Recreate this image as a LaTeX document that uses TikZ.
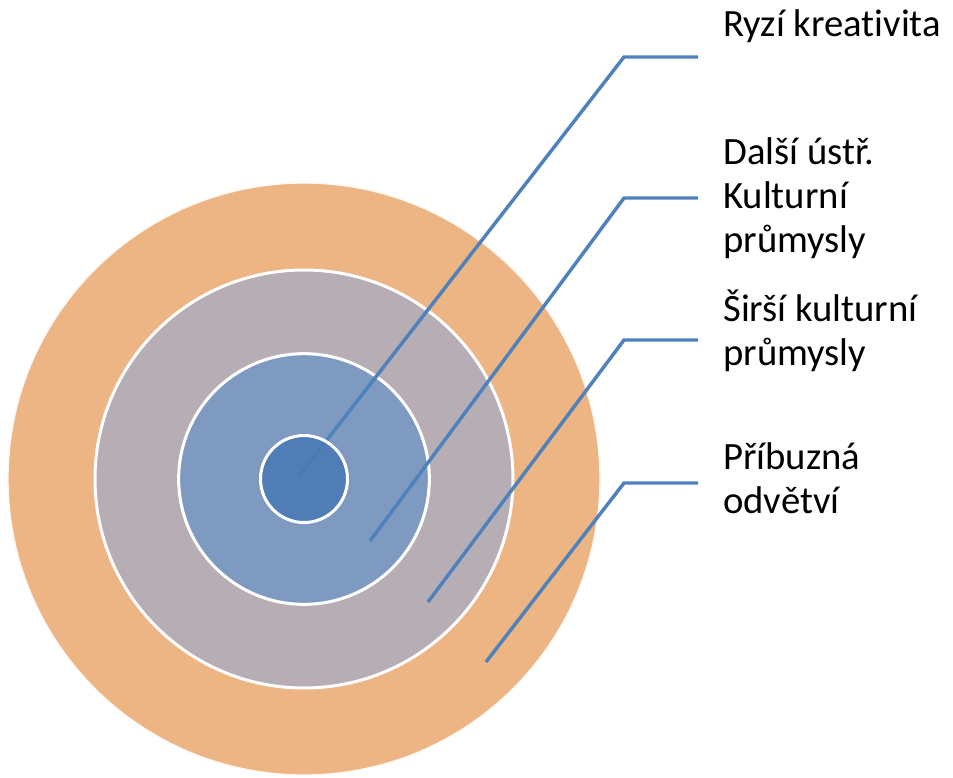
\documentclass[tikz,border=0pt]{standalone}
\usepackage{fontspec}
\setmainfont{Carlito}[Ligatures={NoCommon}]
\usetikzlibrary{positioning}

\definecolor{ringorange}{HTML}{EEB584}
\definecolor{ringgray}{HTML}{B7AEB5}
\definecolor{ringblue}{HTML}{7F9AC0}
\definecolor{coreblue}{HTML}{4A7AB4}
\definecolor{leaderblue}{HTML}{4F81BD}

\begin{document}
\begin{tikzpicture}[
    x=0.75pt, y=-0.75pt,
    ring/.style={circle, draw=white, line width=2.25pt, inner sep=0pt},
    leader/.style={draw=leaderblue, line width=2.6pt},
    lbl/.style={anchor=base west, align=left, inner sep=0pt,
        font=\fontsize{29}{33}\selectfont}
]
    \useasboundingbox (0,0) rectangle (953,778);

    % rings, from outside in
    \node[ring, fill=ringorange, draw=white!90!ringorange, line width=1pt, minimum size=444pt] (related) at (304,479) {};
    \node[ring, fill=ringgray, minimum size=313.5pt] (wider) at (related.center) {};
    \node[ring, fill=ringblue, minimum size=188pt] (core) at (related.center) {};

    % labels (placed at the baseline of their last line)
    \node[lbl] (lblpure) at (723,36.7) {Ryzí kreativita};
    \node[lbl] (lblcore) at (723,252) {Další ústř.\\Kulturní\\průmysly};
    \node[lbl] (lblwider) at (723,365) {Širší kulturní\\průmysly};
    \node[lbl] (lblrelated) at (723,513) {Příbuzná\\odvětví};

    % leader lines
    \coordinate (tippure) at (299,476);
    \coordinate (bendpure) at (624,57);
    \coordinate (endpure) at (698,57);
    \coordinate (tipcore) at (370,541);
    \coordinate (bendcore) at (624,198);
    \coordinate (endcore) at (698,198);
    \coordinate (tipwider) at (428,602);
    \coordinate (bendwider) at (624,340);
    \coordinate (endwider) at (698,340);
    \coordinate (tiprelated) at (486,662);
    \coordinate (bendrelated) at (624,483);
    \coordinate (endrelated) at (698,483);

    \draw[leader] (tippure) -- (bendpure) -- (endpure);
    \draw[leader] (tipcore) -- (bendcore) -- (endcore);
    \draw[leader] (tipwider) -- (bendwider) -- (endwider);
    \draw[leader] (tiprelated) -- (bendrelated) -- (endrelated);

    % innermost circle over the first leader
    \node[ring, fill=coreblue, fill opacity=0.88, draw opacity=1, minimum size=65.25pt] (pure) at (related.center) {};
\end{tikzpicture}
\end{document}
